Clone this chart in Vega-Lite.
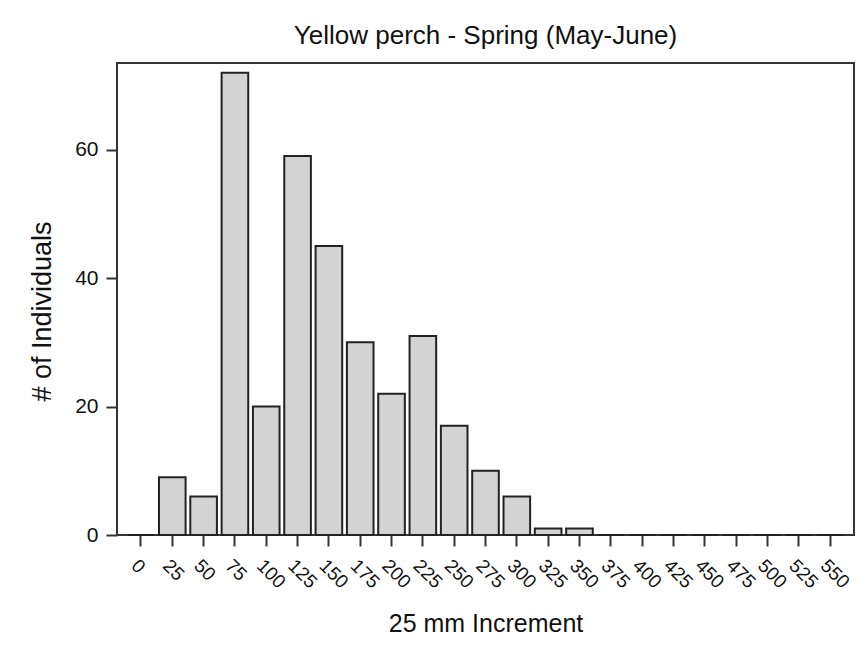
{
  "$schema": "https://vega.github.io/schema/vega-lite/v6.json",
  "autosize": "none",
  "width": 737,
  "height": 472,
  "padding": {"left": 117, "top": 63, "right": 11, "bottom": 117},
  "background": "white",
  "title": {
    "text": "Yellow perch - Spring (May-June)",
    "font": "Liberation Sans",
    "fontSize": 26,
    "fontWeight": "normal",
    "color": "#111111",
    "offset": 14
  },
  "data": {
    "values": [
      {"length": 0, "count": 0},
      {"length": 25, "count": 9},
      {"length": 50, "count": 6},
      {"length": 75, "count": 72},
      {"length": 100, "count": 20},
      {"length": 125, "count": 59},
      {"length": 150, "count": 45},
      {"length": 175, "count": 30},
      {"length": 200, "count": 22},
      {"length": 225, "count": 31},
      {"length": 250, "count": 17},
      {"length": 275, "count": 10},
      {"length": 300, "count": 6},
      {"length": 325, "count": 1},
      {"length": 350, "count": 1},
      {"length": 375, "count": 0},
      {"length": 400, "count": 0},
      {"length": 425, "count": 0},
      {"length": 450, "count": 0},
      {"length": 475, "count": 0},
      {"length": 500, "count": 0},
      {"length": 525, "count": 0},
      {"length": 550, "count": 0}
    ]
  },
  "mark": {"type": "bar", "fill": "#d3d3d3", "stroke": "#222222", "strokeWidth": 2},
  "encoding": {
    "x": {
      "field": "length",
      "type": "ordinal",
      "sort": "ascending",
      "scale": {"paddingInner": 0.15, "paddingOuter": 0.34},
      "axis": {
        "title": "25 mm Increment",
        "labelAngle": 45,
        "labelFontSize": 19,
        "labelPadding": 10,
        "labelDx": -4,
        "tickSize": 11,
        "titlePadding": 20,
        "titleFontSize": 25
      }
    },
    "y": {
      "field": "count",
      "type": "quantitative",
      "scale": {"domain": [0, 73.5], "nice": false},
      "axis": {
        "title": "# of Individuals",
        "values": [0, 20, 40, 60],
        "labelFontSize": 21,
        "labelPadding": 8,
        "tickSize": 11,
        "titlePadding": 18,
        "titleFontSize": 27,
        "titleY": 248,
        "grid": false
      }
    }
  },
  "config": {
    "font": "Liberation Sans",
    "view": {"stroke": "#333333", "strokeWidth": 2},
    "axis": {
      "domain": false,
      "tickColor": "#333333",
      "tickWidth": 2,
      "labelColor": "#111111",
      "labelFont": "Liberation Sans",
      "titleFont": "Liberation Sans",
      "titleFontWeight": "normal",
      "titleColor": "#111111"
    }
  }
}
